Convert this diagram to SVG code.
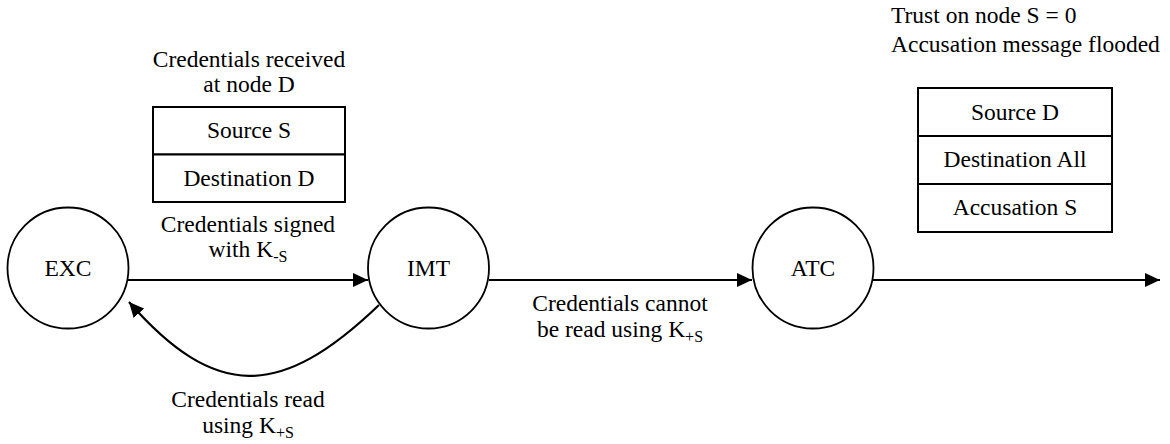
<svg xmlns="http://www.w3.org/2000/svg" width="1170" height="444" viewBox="0 0 1170 444">
<style>
text{font-family:"Liberation Serif","Times New Roman",serif;font-size:23.5px;fill:#000}
.c{text-anchor:middle}
.sub{font-size:16px}
.node{fill:#fff;stroke:#000;stroke-width:1.8}
.box{fill:#fff;stroke:#000;stroke-width:2}
.edge{fill:none;stroke:#000;stroke-width:2.2}
</style>
<defs>
<marker id="ah" viewBox="0 0 15 14" refX="15" refY="7" markerWidth="15" markerHeight="14" markerUnits="userSpaceOnUse" orient="auto">
<path d="M0,0 L15,7 L0,14 Z" fill="#000"/>
</marker>
</defs>
<g id="connectors">
<line class="edge" x1="128" y1="280" x2="368" y2="280" marker-end="url(#ah)"/>
<line class="edge" x1="489" y1="280" x2="752" y2="280" marker-end="url(#ah)"/>
<line class="edge" x1="873" y1="280" x2="1160" y2="280" marker-end="url(#ah)"/>
<path class="edge" d="M379,305 C280,400 215,400 129,302" marker-end="url(#ah)"/>
</g>
<g id="node-exc">
<circle class="node" cx="68" cy="268" r="60.5"/>
<text class="c" x="68" y="276">EXC</text>
</g>
<g id="node-imt">
<circle class="node" cx="428.5" cy="268" r="60.5"/>
<text class="c" x="428.5" y="276">IMT</text>
</g>
<g id="node-atc">
<circle class="node" cx="813" cy="268" r="60.5"/>
<text class="c" x="813" y="276">ATC</text>
</g>
<g id="packet-1">
<text class="c" x="249" y="67">Credentials received</text>
<text class="c" x="249" y="92">at node D</text>
<rect class="box" x="153" y="107" width="192" height="47.5"/>
<rect class="box" x="153" y="154.5" width="192" height="47.5"/>
<text class="c" x="249" y="138">Source S</text>
<text class="c" x="249" y="186">Destination D</text>
</g>
<g id="packet-2">
<text x="891" y="23">Trust on node S = 0</text>
<text x="891" y="51.5">Accusation message flooded</text>
<rect class="box" x="918" y="88" width="194" height="48"/>
<rect class="box" x="918" y="136" width="194" height="48"/>
<rect class="box" x="918" y="184" width="194" height="48"/>
<text class="c" x="1015" y="120">Source D</text>
<text class="c" x="1015" y="167">Destination All</text>
<text class="c" x="1015" y="215">Accusation S</text>
</g>
<g id="labels">
<text class="c" x="248" y="232">Credentials signed</text>
<text class="c" x="248" y="257">with K<tspan class="sub" dy="5">-S</tspan></text>
<text class="c" x="620" y="311">Credentials cannot</text>
<text class="c" x="620" y="337">be read using K<tspan class="sub" dy="5">+S</tspan></text>
<text class="c" x="248" y="407">Credentials read</text>
<text class="c" x="248" y="433">using K<tspan class="sub" dy="5">+S</tspan></text>
</g>
</svg>
